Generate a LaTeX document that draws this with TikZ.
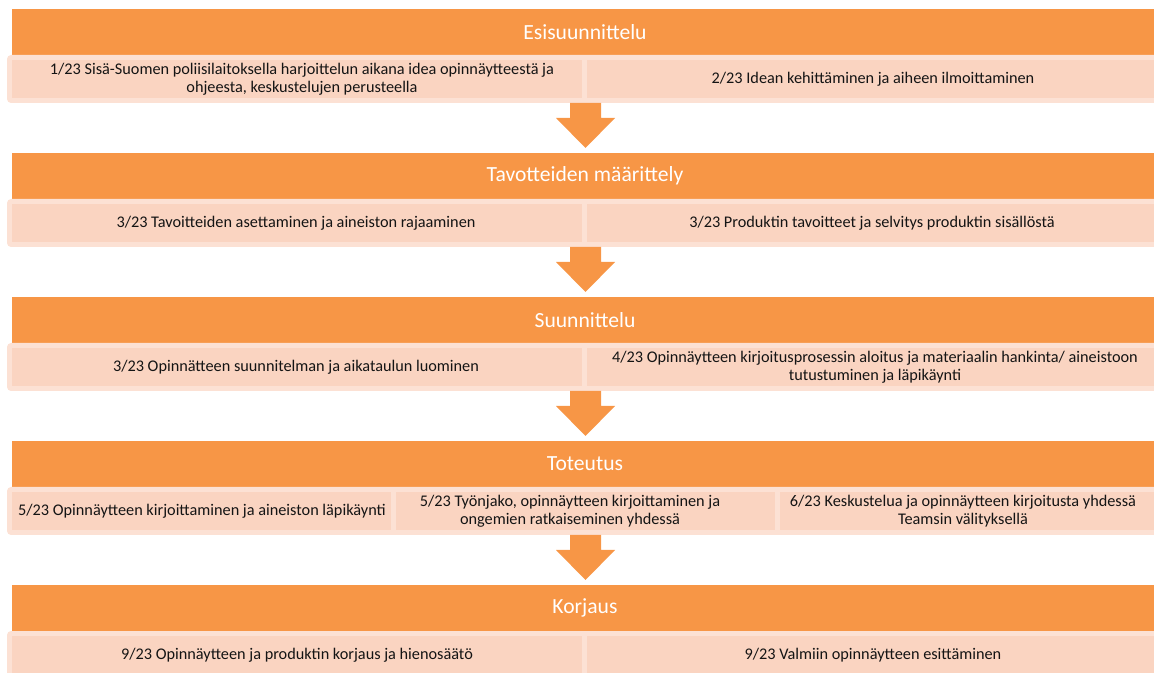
\documentclass[tikz,border=0pt]{standalone}
\usepackage{fontspec}
\setmainfont{Carlito}
\definecolor{hdr}{HTML}{F79646}
\definecolor{cellc}{HTML}{FAD4C1}
\definecolor{rowc}{HTML}{FCE1D4}
\definecolor{txt}{HTML}{141414}
\tikzset{
  hdrbox/.style={fill=hdr},
  rowbox/.style={fill=rowc, rounded corners=3pt},
  cellbox/.style={fill=cellc},
  flowarrow/.style={fill=hdr},
  hdrtext/.style={text=white, font=\fontsize{16.2}{19}\selectfont, inner sep=0pt},
  celltext/.style={text=txt, font=\fontsize{12.2}{13.5}\selectfont, align=center, inner sep=0pt},
}
\begin{document}
\begin{tikzpicture}[x=0.75pt,y=-0.75pt]
\useasboundingbox (0,0) rectangle (1154,673);
\clip (0,0) rectangle (1154,673);

% ---------- Band 1
\fill[hdrbox] (12,9) rectangle (1162,55);
\node[hdrtext] (h1) at (585,32) {Esisuunnittelu};
\fill[rowbox] (7,55) rectangle (1170,103);
\fill[cellbox] (12,60) rectangle (582,98);
\fill[cellbox] (587,60) rectangle (1162,98);
\node[celltext] (c11) at (302,79) {1/23 Sisä-Suomen poliisilaitoksella harjoittelun aikana idea opinnäytteestä ja\\ohjeesta, keskustelujen perusteella};
\node[celltext] (c12) at (873,79) {2/23 Idean kehittäminen ja aiheen ilmoittaminen};
\coordinate (a1) at (585.5,103);
\fill[flowarrow] (a1) ++(-15.5,0) -- ++(31,0) -- ++(0,15) -- ++(14,0) -- ++(-29.5,30) -- ++(-29.5,-30) -- ++(14,0) -- cycle;

% ---------- Band 2
\fill[hdrbox] (12,153) rectangle (1162,199);
\node[hdrtext] (h2) at (585,176) {Tavotteiden määrittely};
\fill[rowbox] (7,199) rectangle (1170,247);
\fill[cellbox] (12,204) rectangle (582,242);
\fill[cellbox] (587,204) rectangle (1162,242);
\node[celltext] (c21) at (296,223) {3/23 Tavoitteiden asettaminen ja aineiston rajaaminen};
\node[celltext] (c22) at (872,223) {3/23 Produktin tavoitteet ja selvitys produktin sisällöstä};
\coordinate (a2) at (585.5,247);
\fill[flowarrow] (a2) ++(-15.5,0) -- ++(31,0) -- ++(0,15) -- ++(14,0) -- ++(-29.5,30) -- ++(-29.5,-30) -- ++(14,0) -- cycle;

% ---------- Band 3
\fill[hdrbox] (12,297) rectangle (1162,343);
\node[hdrtext] (h3) at (585,320) {Suunnittelu};
\fill[rowbox] (7,343) rectangle (1170,391);
\fill[cellbox] (12,348) rectangle (582,386);
\fill[cellbox] (587,348) rectangle (1162,386);
\node[celltext] (c31) at (296,367) {3/23 Opinnätteen suunnitelman ja aikataulun luominen};
\node[celltext] (c32) at (875,367) {4/23 Opinnäytteen kirjoitusprosessin aloitus ja materiaalin hankinta/ aineistoon\\tutustuminen ja läpikäynti};
\coordinate (a3) at (585.5,391);
\fill[flowarrow] (a3) ++(-15.5,0) -- ++(31,0) -- ++(0,15) -- ++(14,0) -- ++(-29.5,30) -- ++(-29.5,-30) -- ++(14,0) -- cycle;

% ---------- Band 4
\fill[hdrbox] (12,441) rectangle (1162,487);
\node[hdrtext] (h4) at (585,464) {Toteutus};
\fill[rowbox] (7,487) rectangle (1170,535);
\fill[cellbox] (12,492) rectangle (391,530);
\fill[cellbox] (396,492) rectangle (775,530);
\fill[cellbox] (780,492) rectangle (1162,530);
\node[celltext] (c41) at (202,511) {5/23 Opinnäytteen kirjoittaminen ja aineiston läpikäynti};
\node[celltext] (c42) at (570,511) {5/23 Työnjako, opinnäytteen kirjoittaminen ja\\ongemien ratkaiseminen yhdessä};
\node[celltext] (c43) at (963,511) {6/23 Keskustelua ja opinnäytteen kirjoitusta yhdessä\\Teamsin välityksellä};
\coordinate (a4) at (585.5,535);
\fill[flowarrow] (a4) ++(-15.5,0) -- ++(31,0) -- ++(0,15) -- ++(14,0) -- ++(-29.5,30) -- ++(-29.5,-30) -- ++(14,0) -- cycle;

% ---------- Band 5
\fill[hdrbox] (12,585) rectangle (1162,631);
\node[hdrtext] (h5) at (585,608) {Korjaus};
\fill[rowbox] (7,631) rectangle (1170,679);
\fill[cellbox] (12,636) rectangle (582,674);
\fill[cellbox] (587,636) rectangle (1162,674);
\node[celltext] (c51) at (297,655) {9/23 Opinnäytteen ja produktin korjaus ja hienosäätö};
\node[celltext] (c52) at (873,655) {9/23 Valmiin opinnäytteen esittäminen};
\end{tikzpicture}
\end{document}
